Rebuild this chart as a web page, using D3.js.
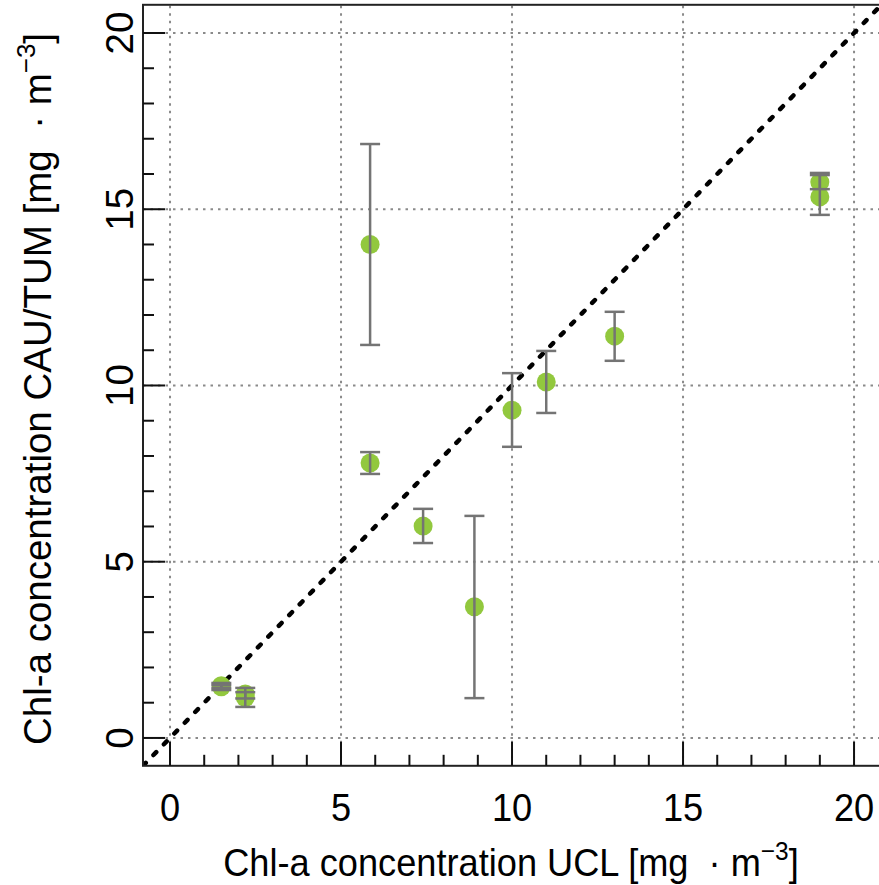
<!DOCTYPE html>
<html>
<head>
<meta charset="utf-8">
<script src="https://cdn.jsdelivr.net/npm/d3@7"></script>
<style>
  body { margin: 0; background: #fff; }
  text { font-family: 'Liberation Sans', Arial, sans-serif; fill: #000; }
</style>
</head>
<body>
<script>
// UCL vs CAU/TUM chl-a
var ucl     = [1.5, 1.5, 2.2, 2.2, 5.85, 5.85, 7.4, 8.9, 10, 11, 13, 19, 19];
var cau     = [1.48, 1.45, 1.25, 1.15, 14.0, 7.8, 6.01, 3.72, 9.3, 10.1, 11.4, 15.77, 15.35];
var cauLow  = [1.36, 1.42, 1.12, 0.88, 11.15, 7.49, 5.53, 1.13, 8.26, 9.22, 10.7, 15.57, 14.84];
var cauHigh = [1.56, 1.50, 1.42, 1.30, 16.85, 8.11, 6.5, 6.3, 10.35, 10.98, 12.09, 16.03, 15.97];

var majorTicks = [0, 5, 10, 15, 20];
var minorTicks = d3.range(0, 21, 1);
var xTitle = 'Chl-a concentration UCL';
var yTitle = 'Chl-a concentration CAU/TUM';

var W = 879, H = 885;
var svg = d3.select('body').append('svg')
    .attr('width', W)
    .attr('height', H);

var x = d3.scaleLinear().domain([-0.79, 20.8]).range([143, 881.4]);
var y = d3.scaleLinear().domain([-0.79, 20.8]).range([765.8, 4.8]);

var x0 = x.range()[0], x1 = x.range()[1];
var y0 = y.range()[0], y1 = y.range()[1];

svg.append('clipPath').attr('id', 'clip')
    .append('rect')
    .attr('x', x0).attr('y', y1)
    .attr('width', x1 - x0).attr('height', y0 - y1);

// grid
var grid = svg.append('g')
    .attr('stroke', '#8a8a8a')
    .attr('stroke-width', 2)
    .attr('stroke-dasharray', '2.5,5');
grid.selectAll('.gx').data(majorTicks).enter().append('line')
    .attr('x1', d => x(d)).attr('x2', d => x(d))
    .attr('y1', y0).attr('y2', y1);
grid.selectAll('.gy').data(majorTicks).enter().append('line')
    .attr('y1', d => y(d)).attr('y2', d => y(d))
    .attr('x1', x0).attr('x2', x1);

// 1:1 line
svg.append('line')
    .attr('clip-path', 'url(#clip)')
    .attr('x1', x(-0.79)).attr('y1', y(-0.79))
    .attr('x2', x(20.8)).attr('y2', y(20.8))
    .attr('stroke', '#000')
    .attr('stroke-width', 4.5)
    .attr('stroke-linecap', 'round')
    .attr('stroke-dasharray', '4,11');

// points first, error bars over them
var idx = d3.range(ucl.length);
svg.append('g').selectAll('circle').data(idx).enter().append('circle')
    .attr('cx', i => x(ucl[i]))
    .attr('cy', i => y(cau[i]))
    .attr('r', 9.5)
    .attr('fill', '#92c83e');

var eb = svg.append('g')
    .attr('stroke', '#747474')
    .attr('stroke-width', 2.5);
var capW = 10;
eb.selectAll('.v').data(idx).enter().append('line')
    .attr('x1', i => x(ucl[i])).attr('x2', i => x(ucl[i]))
    .attr('y1', i => y(cauLow[i])).attr('y2', i => y(cauHigh[i]));
eb.selectAll('.lo').data(idx).enter().append('line')
    .attr('x1', i => x(ucl[i]) - capW).attr('x2', i => x(ucl[i]) + capW)
    .attr('y1', i => y(cauLow[i])).attr('y2', i => y(cauLow[i]));
eb.selectAll('.hi').data(idx).enter().append('line')
    .attr('x1', i => x(ucl[i]) - capW).attr('x2', i => x(ucl[i]) + capW)
    .attr('y1', i => y(cauHigh[i])).attr('y2', i => y(cauHigh[i]));

// frame
svg.append('rect')
    .attr('x', x0).attr('y', y1)
    .attr('width', x1 - x0).attr('height', y0 - y1)
    .attr('fill', 'none')
    .attr('stroke', '#222')
    .attr('stroke-width', 2);

// inward ticks
var tk = svg.append('g').attr('stroke', '#111').attr('stroke-width', 2);
tk.selectAll('.tx').data(minorTicks).enter().append('line')
    .attr('x1', d => x(d)).attr('x2', d => x(d))
    .attr('y1', y0).attr('y2', d => y0 - (d % 5 === 0 ? 24 : 11));
tk.selectAll('.ty').data(minorTicks).enter().append('line')
    .attr('y1', d => y(d)).attr('y2', d => y(d))
    .attr('x1', x0).attr('x2', d => x0 + (d % 5 === 0 ? 22 : 11));

// tick labels (source text is a bit condensed horizontally)
var fs = 38.5, sx = 0.94;
svg.append('g').selectAll('text').data(majorTicks).enter().append('text')
    .attr('transform', d => 'translate(' + x(d) + ',821) scale(' + sx + ',1)')
    .attr('text-anchor', 'middle')
    .style('font-size', fs + 'px')
    .text(d => d);
svg.append('g').selectAll('text').data(majorTicks).enter().append('text')
    .attr('transform', d => 'translate(133,' + y(d) + ') rotate(-90)')
    .attr('text-anchor', 'middle')
    .style('font-size', fs + 'px')
    .text(d => d);

// axis titles with superscript unit
function unitTitle(sel, label) {
    sel.append('tspan').text(label + ' [mg\u00a0\u00a0\u00b7 m');
    sel.append('tspan').attr('dy', -16).style('font-size', '26px').text('\u22123');
    sel.append('tspan').attr('dy', 16).text(']');
}
svg.append('text')
    .attr('transform', 'translate(511,876) scale(' + sx + ',1)')
    .attr('text-anchor', 'middle')
    .style('font-size', fs + 'px')
    .call(unitTitle, xTitle);
svg.append('text')
    .attr('transform', 'translate(51,389) rotate(-90)')
    .attr('text-anchor', 'middle')
    .style('font-size', fs + 'px')
    .call(unitTitle, yTitle);
</script>
</body>
</html>
